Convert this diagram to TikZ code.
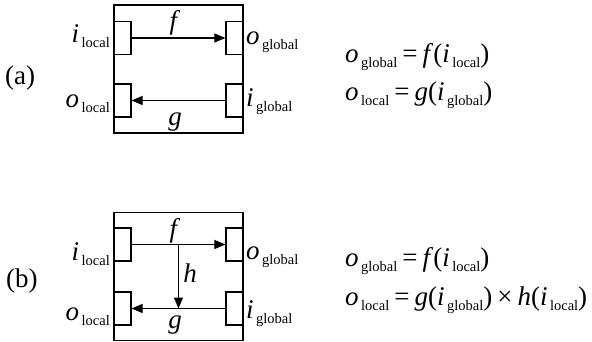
\documentclass[tikz,border=0pt]{standalone}
\usepackage{fontspec}
\setmainfont{Liberation Serif}
\usetikzlibrary{arrows.meta, positioning, calc}
\newcommand{\sbs}[2]{\textit{#1}\hspace{2.5pt}\raisebox{-5pt}{\fontsize{14.5}{15}\selectfont #2}}
\newcommand{\rel}[1]{\hspace{5pt}#1\hspace{5pt}}
\tikzset{
  port/.style={draw, line width=1.2pt, minimum width=17pt, minimum height=33pt, inner sep=0pt},
  outer/.style={draw, line width=1.2pt, minimum width=129pt, minimum height=128pt, inner sep=0pt},
  flow/.style={-{Triangle[length=11pt, width=9pt]}, line width=1.1pt},
  lbl/.style={font=\fontsize{27}{29}\selectfont, inner sep=0pt},
}
\begin{document}
\begin{tikzpicture}[x=1pt, y=-1pt]
  \useasboundingbox (0,0) rectangle (592,342);
  % (a)
  \node[outer] (boxa) at (178.5,69) {};
  \node[port] (ila) at (122.5,38) {};
  \node[port] (oga) at (234.5,38) {};
  \node[port] (ola) at (122.5,100.5) {};
  \node[port] (iga) at (234.5,100.5) {};
  \draw[flow] (ila.east) -- (oga.west);
  \draw[flow] (iga.west) -- (ola.east);
  \node[lbl, anchor=base east] (tila) at (110,43) {\sbs{i}{local}};
  \node[lbl, anchor=base west] (toga) at (246,45) {\sbs{o}{global}};
  \node[lbl, anchor=base east] (tola) at (110,108) {\sbs{o}{local}};
  \node[lbl, anchor=base west] (tiga) at (246,107) {\sbs{i}{global}};
  \node[lbl, anchor=base] (fa) at (175,30) {\textit{f}};
  \node[lbl, anchor=base] (ga) at (175,126) {\textit{g}};
  \node[lbl, anchor=base west] (capa) at (5,85) {(a)};
  \node[lbl, anchor=base west] (eqa1) at (345,63) {\sbs{o}{global}\rel{=}\textit{f}(\sbs{i}{local})};
  \node[lbl, anchor=base west] (eqa2) at (345,101) {\sbs{o}{local}\rel{=}\textit{g}(\sbs{i}{global})};
  % (b)
  \node[outer] (boxb) at (178.5,276.5) {};
  \node[port] (ilb) at (122.5,244.5) {};
  \node[port] (ogb) at (234.5,244.5) {};
  \node[port] (olb) at (122.5,308.5) {};
  \node[port] (igb) at (234.5,308.5) {};
  \draw[flow] (ilb.east) -- (ogb.west);
  \draw[flow] (igb.west) -- (olb.east);
  \coordinate (hs) at ($(ilb.east)!0.5!(ogb.west)$);
  \draw[flow] (hs) -- (hs |- olb.east);
  \node[lbl, anchor=base east] (tilb) at (110,260) {\sbs{i}{local}};
  \node[lbl, anchor=base west] (togb) at (246,259) {\sbs{o}{global}};
  \node[lbl, anchor=base east] (tolb) at (110,320) {\sbs{o}{local}};
  \node[lbl, anchor=base west] (tigb) at (246,318) {\sbs{i}{global}};
  \node[lbl, anchor=base] (fb) at (175,237) {\textit{f}};
  \node[lbl, anchor=base] (hb) at (190,282) {\textit{h}};
  \node[lbl, anchor=base] (gb) at (175,328) {\textit{g}};
  \node[lbl, anchor=base west] (capb) at (6,287) {(b)};
  \node[lbl, anchor=base west] (eqb1) at (345,266) {\sbs{o}{global}\rel{=}\textit{f}(\sbs{i}{local})};
  \node[lbl, anchor=base west] (eqb2) at (345,305) {\sbs{o}{local}\rel{=}\textit{g}(\sbs{i}{global})\rel{×}\textit{h}(\sbs{i}{local})};
\end{tikzpicture}
\end{document}
